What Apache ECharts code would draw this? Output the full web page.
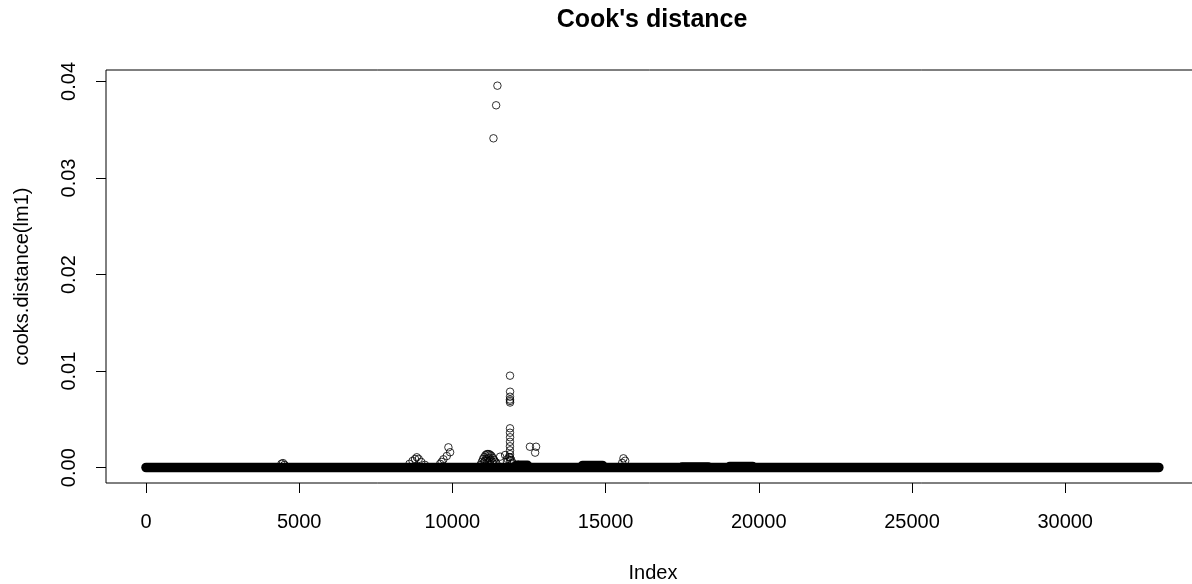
<!DOCTYPE html>
<html>
<head>
<meta charset="utf-8">
<script src="https://cdn.jsdelivr.net/npm/echarts@6/dist/echarts.min.js"></script>
<style>
  html, body { margin: 0; padding: 0; background: #fff; }
  #chart { width: 1192px; height: 584px; }
</style>
</head>
<body>
<div id="chart"></div>
<script>
// ---- data ----
const titleText = "Cook's distance";
const xName = "Index";
const yName = "cooks.distance(lm1)";
const xTicks = [0, 5000, 10000, 15000, 20000, 25000, 30000];
const yTicks = [0, 0.01, 0.02, 0.03, 0.04];

// dense band of near-zero observations: [startIndex, endIndex, level]
const bandStart = [1, 14250, 17500, 19050, 12100];
const bandEnd   = [33056, 14900, 18350, 19800, 12450];
const bandLevel = [0.00002, 0.00023, 0.00006, 0.00012, 0.00025];

// individually visible observations
const pointIndex = [
  11340, 11427, 11469,
  11880, 11882, 11880, 11878, 11880, 11882,
  11880, 11880, 11882, 11880, 11878, 11880, 11880, 11882, 11880,
  11800, 11850, 11920, 11960, 11780, 11557, 11720,
  12530, 12730, 12700,
  9869, 9925, 9816, 9707, 9650, 9600,
  8600, 8700, 8780, 8838, 8900, 8980, 9100,
  4420, 4470, 4520,
  10920, 10960, 11000, 11040, 11080, 11120, 11160, 11200, 11240, 11280, 11320, 11360, 11400, 11440,
  11060, 11120, 11180, 11240, 11300, 11140, 11220, 11020, 11340,
  15583, 15640, 15540,
  12150, 12350
];
const pointValue = [
  0.03411, 0.03753, 0.03956,
  0.00953, 0.00787, 0.00735, 0.00706, 0.00691, 0.00675,
  0.00408, 0.00362, 0.00315, 0.00268, 0.00222, 0.00180, 0.00140, 0.00106, 0.00080,
  0.00090, 0.00110, 0.00080, 0.00050, 0.00060, 0.00114, 0.00131,
  0.00217, 0.00217, 0.00156,
  0.00211, 0.00160, 0.00121, 0.00087, 0.00060, 0.00040,
  0.00040, 0.00070, 0.00090, 0.00108, 0.00090, 0.00060, 0.00030,
  0.00040, 0.00048, 0.00030,
  0.00030, 0.00060, 0.00090, 0.00110, 0.00130, 0.00140, 0.00142, 0.00140, 0.00132, 0.00120, 0.00100, 0.00080, 0.00060, 0.00040,
  0.00070, 0.00090, 0.00100, 0.00080, 0.00060, 0.00050, 0.00040, 0.00050, 0.00040,
  0.00097, 0.00072, 0.00050,
  0.00030, 0.00020
];

// ---- chart ----
const chart = echarts.init(document.getElementById('chart'), null, { renderer: 'canvas' });
const font = 'Liberation Sans, Arial, Helvetica, sans-serif';

const bandSeries = bandStart.map((s, i) => ({
  type: 'line',
  data: [[s, bandLevel[i]], [bandEnd[i], bandLevel[i]]],
  symbol: 'none',
  lineStyle: { color: '#000', width: 9.6, cap: 'round' },
  silent: true,
  z: 2
}));

chart.setOption({
  animation: false,
  backgroundColor: '#fff',
  grid: {
    left: 106, top: 70, width: 1094, height: 413,
    containLabel: false, outerBoundsMode: 'none',
    show: true, borderColor: '#000', borderWidth: 1, backgroundColor: 'transparent'
  },
  xAxis: {
    type: 'value',
    min: -1306, max: 34400,
    name: xName, nameLocation: 'middle', nameGap: 80,
    nameTextStyle: { fontFamily: font, fontSize: 20, color: '#000' },
    axisLine: { show: false, onZero: false },
    splitLine: { show: false },
    axisTick: { show: true, inside: false, length: 10, customValues: xTicks, lineStyle: { color: '#000', width: 1 } },
    axisLabel: { customValues: xTicks, margin: 29, fontFamily: font, fontSize: 20, color: '#000',
      formatter: v => String(v) }
  },
  yAxis: {
    type: 'value',
    min: -0.001584, max: 0.041184,
    name: yName, nameLocation: 'middle', nameGap: 74, nameRotate: 90,
    nameTextStyle: { fontFamily: font, fontSize: 20, color: '#000' },
    axisLine: { show: false, onZero: false },
    splitLine: { show: false },
    axisTick: { show: true, inside: false, length: 10, customValues: yTicks, lineStyle: { color: '#000', width: 1 } },
    axisLabel: { customValues: yTicks, rotate: 90, margin: 27, fontFamily: font, fontSize: 20, color: '#000',
      formatter: v => v.toFixed(2) }
  },
  graphic: [{
    type: 'text', x: 652, y: 20,
    style: { text: titleText, font: 'bold 25px ' + font, fill: '#000', textAlign: 'center', textVerticalAlign: 'middle' }
  }],
  series: bandSeries.concat([{
    type: 'scatter',
    data: pointIndex.map((x, i) => [x, pointValue[i]]),
    symbol: 'circle',
    symbolSize: 7.5,
    itemStyle: { color: 'rgba(0,0,0,0)', borderColor: '#000', borderWidth: 1 },
    silent: true,
    z: 3
  }])
});
</script>
</body>
</html>
